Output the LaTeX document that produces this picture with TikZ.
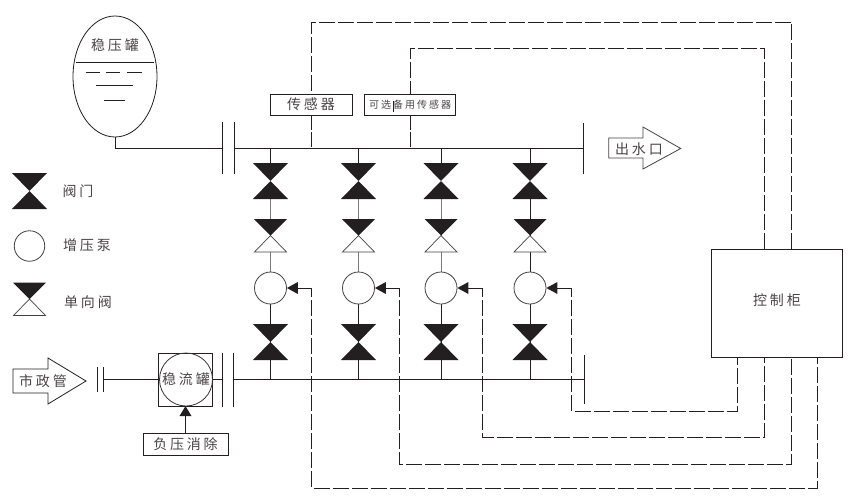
\documentclass[tikz,border=0pt]{standalone}
\usepackage{fontspec}
\usetikzlibrary{shapes.geometric}
\setmainfont{Noto Sans CJK SC}[LetterSpace=20]
\definecolor{ink}{HTML}{231F20}
\definecolor{txt}{HTML}{4A4546}
\tikzset{
  pipe/.style={draw=ink,line width=0.95pt},
  signal/.style={draw=ink,line width=0.95pt,dash pattern=on 16pt off 3pt},
  box/.style={draw=ink,line width=0.95pt,fill=white,inner sep=0pt},
  label/.style={text=txt,font=\fontsize{14}{14}\selectfont,inner sep=0pt},
  smalllabel/.style={text=txt,font=\fontsize{10}{10}\selectfont,inner sep=0pt},
  pumpc/.style={circle,draw=ink!85,line width=0.8pt,fill=white,inner sep=0pt},
  valve/.pic={
    \fill[ink] (-17.5,-18) -- (17.5,-18) -- (0,0) -- cycle;
    \fill[ink] (-17.5,18) -- (17.5,18) -- (0,0) -- cycle;
  },
  checkvalve/.pic={
    \draw[draw=ink!85,line width=0.7pt,fill=white] (-16,16.5) -- (16,16.5) -- (0,0) -- cycle;
    \fill[ink] (-16.5,-16.5) -- (16.5,-16.5) -- (0,0) -- cycle;
  }
}
\begin{document}
\begin{tikzpicture}[x=1pt,y=-1pt]
\useasboundingbox (0,0) rectangle (855,498);
% named points
\coordinate (flangeTopA) at (222,122);  \coordinate (flangeTopB) at (222,174);
\coordinate (flangeTopC) at (234.5,122);\coordinate (flangeTopD) at (234.5,174);
\coordinate (flangeBotA) at (222.5,353);\coordinate (flangeBotB) at (222.5,407);
\coordinate (flangeBotC) at (233.5,353);\coordinate (flangeBotD) at (233.5,407);
\coordinate (cityA) at (97.5,367);\coordinate (cityB) at (97.5,392);
\coordinate (cityC) at (103,367);\coordinate (cityD) at (103,392);
\coordinate (mainEndA) at (583,123);\coordinate (mainEndB) at (583,174);
\coordinate (mainEnd) at (583,148);
\coordinate (botEndA) at (584,355);\coordinate (botEndB) at (584,404);
\coordinate (botEnd) at (584,379);

% control cabinet
\node[box,minimum width=130.5pt,minimum height=108pt] (ctrl) at (777,303) {};
\node[label] at (777,300) {控制柜};
\coordinate (ct2) at (764.7,249);\coordinate (ct3) at (791.7,249);

% tank
\node[ellipse,draw=ink,line width=0.8pt,minimum width=84pt,minimum height=121pt,inner sep=0pt] (tank) at (115,76.5) {};
\node[label] at (115,45) {稳压罐};
\draw[pipe] (76,62) -- (154,62);
\draw[pipe] (86,72) -- (100,72) (106,72) -- (120,72) (127,72) -- (142,72);
\draw[pipe] (96,85) -- (133,85);
\draw[pipe] (104,100) -- (125,100);
\draw[pipe] (tank.south) |- (flangeTopA |- mainEnd);
\draw[pipe] (flangeTopA) -- (flangeTopB);
\draw[pipe] (flangeTopC) -- (flangeTopD);
\draw[pipe] (flangeTopC |- mainEnd) -- (mainEnd);
\draw[pipe] (mainEndA) -- (mainEndB);

% sensors
\draw[signal] (ct3) -- (791.7,22) -- (311.5,22) -- (311.5,94);
\draw[signal] (ct2) -- (764.7,48) -- (410,48) -- (410,94);
\node[box,minimum width=82pt,minimum height=21pt] (sensorA) at (311,104.5) {};
\node[label] at (311,104.5) {传感器};
\node[box,minimum width=91pt,minimum height=21pt] (sensorB) at (409.5,104.5) {};
\node[smalllabel] at (410,104.5) {可选备用传感器};
\draw[ink,line width=0.9pt] (393.5,100.5) -- (393.5,112);
\draw[signal,dash pattern=on 15pt off 2pt] (311.5,115) -- (311.5,148);
\draw[signal,dash pattern=on 15pt off 2pt] (410,115) -- (410,148);

% columns
\foreach \n/\x/\gap/\rx/\by/\cx in {
  1/270.5/ink!60/311.7/488/817,
  2/358.5/ink!60/399/464/791.7,
  3/441/ink!60/482/437/764.7,
  4/530/ink/571.7/411/737.7}{
  \coordinate (top\n) at (\x,148);
  \coordinate (bot\n) at (\x,379);
  \draw[pipe] (top\n) -- (\x,170);
  \draw[draw=\gap,line width=0.95pt] (\x,199) -- (\x,272);
  \draw[pipe] (\x,304) -- (bot\n);
  \pic at (\x,181) {valve};
  \pic at (\x,235.5) {checkvalve};
  \pic at (\x,342) {valve};
  \node[pumpc,minimum size=32pt] (pump\n) at (\x,288) {};
  \draw[signal,dash phase=7pt] (\rx,288) -- (\rx,\by) -- (\cx,\by) -- (\cx,357);
  \draw[pipe] (\x+24,288) -- (\rx,288);
  \fill[ink] (pump\n.east) -- ++(11,-6) -- ++(0,12) -- cycle;
}

% bottom line
\draw[pipe] (flangeBotC |- botEnd) -- (botEnd);
\draw[pipe] (botEndA) -- (botEndB);
\draw[pipe] (flangeBotA) -- (flangeBotB);
\draw[pipe] (flangeBotC) -- (flangeBotD);

% inlet
\draw[draw=ink,line width=0.8pt,fill=white]
  (13,369) -- (48,369) -- (48,358) -- (86,381) -- (48,404) -- (48,393) -- (13,393) -- cycle;
\node[label] (city) at (43,381) {市政管};
\draw[pipe] (cityA) -- (cityB);
\draw[pipe] (cityC) -- (cityD);
\node[box,minimum width=53.7pt,minimum height=53pt] (buffer) at (185.8,379.5) {};
\node[circle,draw=ink!90,line width=0.8pt,minimum size=53pt,inner sep=0pt] (bufferC) at (186,379.5) {};
\node[label] at (186,379.5) {稳流罐};
\draw[pipe] (cityC |- botEnd) -- (buffer.west |- botEnd);
\draw[pipe] (buffer.east |- botEnd) -- (flangeBotA |- botEnd);
\node[box,minimum width=85pt,minimum height=22pt] (neg) at (185.5,444) {};
\node[label] at (185.5,444) {负压消除};
\draw[pipe] (neg.north) -- (185.5,414);
\fill[ink] (185.5,406) -- (191.5,416) -- (179.5,416) -- cycle;

% outlet
\draw[draw=ink!85,line width=0.8pt,fill=white]
  (608.7,138) -- (643,138) -- (643,127) -- (680.7,148.5) -- (643,169) -- (643,158) -- (608.7,158) -- cycle;
\node[label] (outlet) at (639,149) {出水口};

% legend
\pic at (29.5,191) {valve};
\node[label] at (78,191) {阀门};
\node[pumpc,minimum size=30.5pt] (legendPump) at (29.5,246) {};
\node[label] at (87,245) {增压泵};
\pic at (29.5,299) {checkvalve};
\node[label] at (88,302) {单向阀};
\end{tikzpicture}
\end{document}
